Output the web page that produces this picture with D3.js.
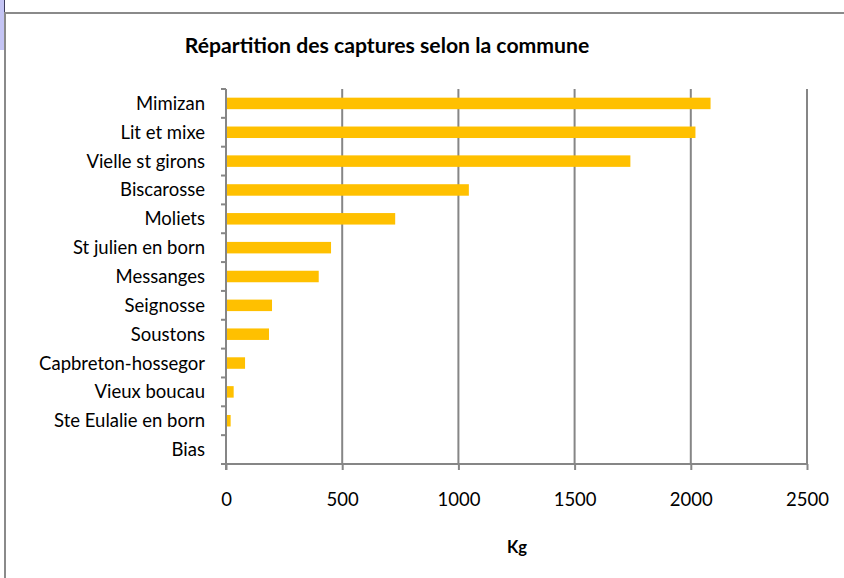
<!DOCTYPE html>
<html>
<head>
<meta charset="utf-8">
<script src="https://cdn.jsdelivr.net/npm/d3@7"></script>
<style>
  html, body { margin: 0; padding: 0; background: #fff; }
  svg { display: block; }
  text { font-family: Lato, "Open Sans", sans-serif; fill: #000; }
</style>
</head>
<body>
<svg id="chart" width="844" height="578"></svg>
<script>
const categories = ["Mimizan", "Lit et mixe", "Vielle st girons", "Biscarosse", "Moliets",
  "St julien en born", "Messanges", "Seignosse", "Soustons", "Capbreton-hossegor",
  "Vieux boucau", "Ste Eulalie en born", "Bias"];
const values = [2085, 2020, 1740, 1045, 728, 452, 399, 198, 185, 82, 33, 20, 0];
const xTicks = [0, 500, 1000, 1500, 2000, 2500];
const title = "Répartition des captures selon la commune";
const xTitle = "Kg";

(function () {
const svg = d3.select("#chart");
const W = 844, H = 578;
const mLeft = 226, mRight = 807, mTop = 89, mBottom = 464;
const axisColor = "#868686";

// frame decorations
svg.append("rect").attr("x", 0).attr("y", 0).attr("width", 4).attr("height", 50).attr("fill", "#c4c4f4");
svg.append("line").attr("x1", 4.5).attr("x2", 4.5).attr("y1", 0).attr("y2", 12).attr("stroke", "#3c3c5c").attr("stroke-width", 1);
svg.append("line").attr("x1", 5).attr("x2", 5).attr("y1", 12).attr("y2", H).attr("stroke", "#8a8a8a").attr("stroke-width", 2);
svg.append("line").attr("x1", 4).attr("x2", W).attr("y1", 13).attr("y2", 13).attr("stroke", "#8a8a8a").attr("stroke-width", 2);

const x = d3.scaleLinear().domain([0, 2500]).range([mLeft, mRight]);
const yb = d3.scaleBand().domain(categories).range([mTop, mBottom]);

// gridlines
svg.append("g").selectAll("line").data(xTicks.slice(1)).join("line")
  .attr("x1", d => x(d)).attr("x2", d => x(d))
  .attr("y1", mTop).attr("y2", mBottom)
  .attr("stroke", axisColor).attr("stroke-width", 2);

// bars
svg.append("g").selectAll("rect").data(categories).join("rect")
  .attr("x", x(0))
  .attr("y", d => yb(d) + yb.bandwidth() / 2 - 5.75)
  .attr("width", (d, i) => x(values[i]) - x(0))
  .attr("height", 11.5)
  .attr("fill", "#ffc000");

// x axis
const xAxis = svg.append("g").attr("transform", `translate(0,${mBottom})`)
  .call(d3.axisBottom(x).tickValues(xTicks).tickSize(6).tickPadding(23).tickFormat(d3.format("d")));
xAxis.select(".domain").attr("stroke", axisColor).attr("stroke-width", 2)
  .attr("d", `M${mLeft},0H${mRight}`);
xAxis.selectAll(".tick line").attr("stroke", axisColor).attr("stroke-width", 2);
xAxis.selectAll(".tick text").attr("font-size", 18.5).attr("font-family", "Lato, sans-serif").attr("fill", "#000");

// y axis
const yBoundaries = d3.range(categories.length + 1).map(i => mTop + i * yb.step());
const yAxisG = svg.append("g");
yAxisG.append("line").attr("x1", mLeft).attr("x2", mLeft).attr("y1", mTop).attr("y2", mBottom + 6)
  .attr("stroke", axisColor).attr("stroke-width", 2);
yAxisG.selectAll("line.tk").data(yBoundaries).join("line").attr("class", "tk")
  .attr("x1", mLeft - 5).attr("x2", mLeft).attr("y1", d => d).attr("y2", d => d)
  .attr("stroke", axisColor).attr("stroke-width", 2);
yAxisG.selectAll("text").data(categories).join("text")
  .attr("x", 205).attr("y", d => yb(d) + yb.bandwidth() / 2)
  .attr("dy", "0.35em").attr("text-anchor", "end").attr("font-size", 18.5)
  .text(d => d);

// titles
svg.append("text").attr("x", 387).attr("y", 53).attr("text-anchor", "middle")
  .attr("font-size", 21.2).attr("font-weight", "bold").text(title);
svg.append("text").attr("x", 517).attr("y", 553).attr("text-anchor", "middle")
  .attr("font-size", 16.5).attr("font-weight", "bold").text(xTitle);
})();
</script>
</body>
</html>
